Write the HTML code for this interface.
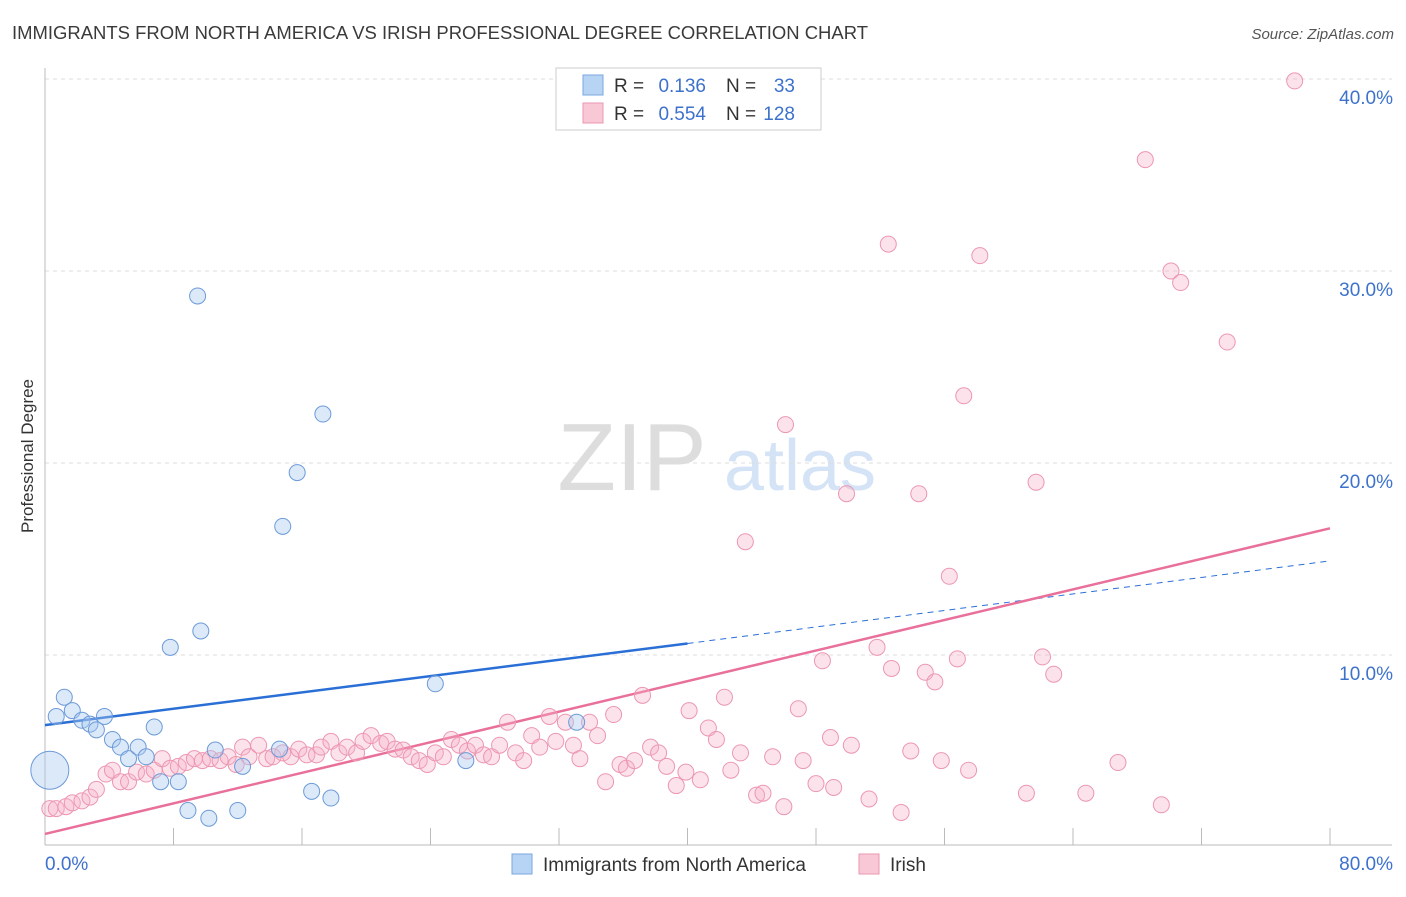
<!DOCTYPE html>
<html><head><meta charset="utf-8"><style>
body{margin:0;background:#fff;font-family:"Liberation Sans",sans-serif}
svg text{font-family:"Liberation Sans",sans-serif}
</style></head><body>
<svg id="chart" width="1406" height="892">
<text x="12" y="39" font-size="18" fill="#3a3a3a" textLength="856" lengthAdjust="spacingAndGlyphs">IMMIGRANTS FROM NORTH AMERICA VS IRISH PROFESSIONAL DEGREE CORRELATION CHART</text>
<text x="1394" y="39" font-size="15" fill="#555" text-anchor="end" font-style="italic">Source: ZipAtlas.com</text>
<text x="33" y="456" font-size="17" fill="#333" text-anchor="middle" transform="rotate(-90 33 456)">Professional Degree</text>
<g><text x="632" y="490" font-size="96" fill="#ddd" font-family="Liberation Serif" text-anchor="middle">ZIP</text><text x="800" y="490" font-size="72" fill="#d4e3f5" text-anchor="middle">atlas</text></g>
<g id="grid"></g><g id="lines"></g><g id="pts"></g>
<g>
<rect x="556" y="68" width="265" height="62" fill="#fff" stroke="#ccc"/>
<rect x="583" y="75" width="20" height="20" fill="#b8d4f5" stroke="#7aa7e0"/>
<text x="614" y="92" font-size="19" fill="#333">R =</text>
<text x="706" y="92" font-size="19" fill="#3d72cc" text-anchor="end">0.136</text>
<text x="726" y="92" font-size="19" fill="#333">N =</text>
<text x="795" y="92" font-size="19" fill="#3d72cc" text-anchor="end">33</text>
<rect x="583" y="103" width="20" height="20" fill="#f9c8d6" stroke="#ec97b1"/>
<text x="614" y="120" font-size="19" fill="#333">R =</text>
<text x="706" y="120" font-size="19" fill="#3d72cc" text-anchor="end">0.554</text>
<text x="726" y="120" font-size="19" fill="#333">N =</text>
<text x="795" y="120" font-size="19" fill="#3d72cc" text-anchor="end">128</text>
</g>
<g>
<rect x="512" y="854" width="20" height="20" fill="#b8d4f5" stroke="#7aa7e0"/>
<text x="543" y="871" font-size="19" fill="#333">Immigrants from North America</text>
<rect x="859" y="854" width="20" height="20" fill="#f9c8d6" stroke="#ec97b1"/>
<text x="890" y="871" font-size="19" fill="#333">Irish</text>
</g>
</svg>
<script>
const yTicks=[10,20,30,40];
const xTickLabels=["0.0%","80.0%"];
const blueX=[0.3,0.7,1.2,1.7,2.3,2.8,3.2,3.7,4.2,4.7,5.2,5.8,6.3,6.8,7.2,7.8,8.3,8.9,9.5,9.7,10.2,10.6,12.0,12.3,14.6,14.8,15.7,16.6,17.3,17.8,24.3,26.2,33.1];
const blueY=[4.0,6.8,7.8,7.1,6.6,6.4,6.1,6.8,5.6,5.2,4.6,5.2,4.7,6.25,3.4,10.4,3.4,1.9,28.7,11.25,1.5,5.05,1.9,4.2,5.1,16.7,19.5,2.9,22.55,2.55,8.5,4.5,6.5];
const pinkX=[0.3,0.7,1.3,1.7,2.3,2.8,3.2,3.8,4.2,4.7,5.2,5.7,6.3,6.8,7.3,7.8,8.3,8.8,9.3,9.8,10.3,10.9,11.4,11.9,12.3,12.7,13.3,13.8,14.2,14.8,15.3,15.8,16.3,16.9,17.2,17.8,18.3,18.8,19.4,19.8,20.3,20.9,21.3,21.8,22.3,22.8,23.3,23.8,24.3,24.8,25.3,25.8,26.3,26.8,27.3,27.8,28.3,28.8,29.3,29.8,30.3,30.8,31.4,31.8,32.4,32.9,33.3,33.9,34.4,34.9,35.4,35.8,36.2,36.7,37.2,37.7,38.2,38.7,39.3,39.9,40.1,40.8,41.3,41.8,42.3,42.7,43.3,43.6,44.3,44.7,45.3,46.0,46.1,46.9,47.2,48.0,48.4,48.9,49.1,49.9,50.2,51.3,51.8,52.5,52.7,53.3,53.9,54.4,54.8,55.4,55.8,56.3,56.8,57.2,57.5,58.2,61.1,61.7,62.1,62.8,64.8,66.8,68.5,69.5,70.1,70.7,73.6,77.8];
const pinkY=[2.0,2.0,2.1,2.3,2.4,2.6,3.0,3.8,4.0,3.4,3.4,3.9,3.8,4.0,4.6,4.1,4.2,4.4,4.6,4.5,4.6,4.5,4.7,4.3,5.2,4.7,5.3,4.6,4.7,4.9,4.7,5.1,4.8,4.8,5.2,5.5,4.9,5.2,4.9,5.5,5.8,5.4,5.5,5.1,5.05,4.7,4.5,4.3,4.9,4.7,5.6,5.3,5.0,5.3,4.8,4.7,5.3,6.5,4.9,4.5,5.8,5.2,6.8,5.5,6.5,5.3,4.6,6.5,5.8,3.4,6.9,4.3,4.1,4.5,7.9,5.2,4.9,4.2,3.2,3.9,7.1,3.5,6.2,5.6,7.8,4.0,4.9,15.9,2.7,2.8,4.7,2.1,22.0,7.2,4.5,3.3,9.7,5.7,3.1,18.4,5.3,2.5,10.4,31.4,9.3,1.8,5.0,18.4,9.1,8.6,4.5,14.1,9.8,23.5,4.0,30.8,2.8,19.0,9.9,9.0,2.8,4.4,35.8,2.2,30.0,29.4,26.3,39.9];
const blueLine=[6.35,10.6,14.9]; // y at x=0, 40, 80
const pinkLine=[0.68,16.6];      // y at x=0, 80
const X=v=>45+v*(1285/80), Y=v=>847-v*19.2;
const NS="http://www.w3.org/2000/svg";
function mk(t,a,p){const e=document.createElementNS(NS,t);for(const k in a)e.setAttribute(k,a[k]);p.appendChild(e);return e;}
const grid=document.getElementById('grid');
yTicks.forEach(t=>{
 const l=mk('line',{x1:45,x2:1392,y1:Y(t),y2:Y(t),stroke:'#ddd','stroke-dasharray':'4,4'},grid);
 
 
 const tx=mk('text',{x:1393,y:Y(t)+25,'font-size':19,fill:'#3d72cc','text-anchor':'end'},grid);tx.textContent=t.toFixed(1)+'%';
 
 
});
mk('line',{x1:45,x2:45,y1:68,y2:845,stroke:'#bbb'},grid);
mk('line',{x1:45,x2:1392,y1:845,y2:845,stroke:'#bbb'},grid);
for(let i=0;i<=10;i++){mk('line',{x1:X(i*8),x2:X(i*8),y1:828,y2:845,stroke:'#bbb'},grid);}
const t0=mk('text',{x:45,y:870,'font-size':19,fill:'#3d72cc'},grid);t0.textContent=xTickLabels[0];


const t1=mk('text',{x:1393,y:870,'font-size':19,fill:'#3d72cc','text-anchor':'end'},grid);t1.textContent=xTickLabels[1];


const lines=document.getElementById('lines');
const pts=document.getElementById('pts');
pinkX.forEach((x,i)=>{const c=mk('circle',{cx:X(x),cy:Y(pinkY[i]),r:8,fill:'rgba(246,176,198,0.35)',stroke:'#ec97b1','stroke-width':1},pts);
 
 });
blueX.forEach((x,i)=>{const c=mk('circle',{cx:X(x),cy:Y(blueY[i]),r:i==0?19:8,fill:'rgba(168,200,240,0.4)',stroke:'#6c9ad8','stroke-width':1},pts);
 
 });
const bl=mk('line',{x1:X(0),y1:Y(blueLine[0]),x2:X(40),y2:Y(blueLine[1]),stroke:'#2a6fd6','stroke-width':2.5},lines);


const bd=mk('line',{x1:X(40),y1:Y(blueLine[1]),x2:X(80),y2:Y(blueLine[2]),stroke:'#2a6fd6','stroke-width':1,'stroke-dasharray':'6,5'},lines);


const pl=mk('line',{x1:X(0),y1:Y(pinkLine[0]),x2:X(80),y2:Y(pinkLine[1]),stroke:'#e8709a','stroke-width':2.5},lines);


</script>
</body></html>
